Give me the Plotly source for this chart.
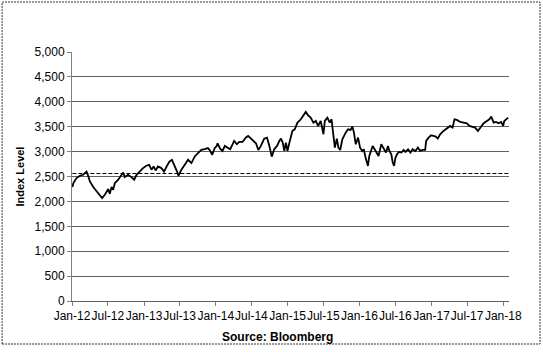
import plotly.graph_objects as go

dates = [
    "2012-01-03","2012-01-08","2012-01-24","2012-02-10","2012-02-27","2012-03-15","2012-03-23","2012-04-01",
    "2012-04-18","2012-05-05","2012-05-22","2012-06-02","2012-06-16","2012-07-03","2012-07-11","2012-07-20",
    "2012-07-28","2012-08-06","2012-08-23","2012-09-08","2012-09-17","2012-09-25","2012-10-12","2012-10-29",
    "2012-11-12","2012-11-24","2012-12-10","2012-12-27","2013-01-13","2013-01-27","2013-02-08","2013-02-19",
    "2013-03-01","2013-03-13","2013-03-30","2013-04-13","2013-04-28","2013-05-11","2013-05-23","2013-06-06",
    "2013-06-18","2013-06-25","2013-07-10","2013-07-27","2013-08-13","2013-08-30","2013-09-16","2013-10-02",
    "2013-10-19","2013-11-05","2013-11-22","2013-11-30","2013-12-14","2013-12-26","2014-01-06",
    "2014-01-10","2014-01-23","2014-02-04","2014-02-16","2014-03-01","2014-03-15","2014-03-27","2014-04-04",
    "2014-04-18","2014-04-30","2014-05-17","2014-06-02","2014-06-14","2014-06-28","2014-07-12","2014-07-24",
    "2014-08-05","2014-08-18","2014-09-04","2014-09-18","2014-09-30","2014-10-12","2014-10-25","2014-11-08",
    "2014-11-20","2014-11-28","2014-12-07","2014-12-15","2014-12-23","2014-12-31","2015-01-08","2015-01-17",
    "2015-01-25","2015-02-06","2015-02-20","2015-03-09","2015-03-22","2015-04-03","2015-04-15","2015-04-28",
    "2015-05-12","2015-05-24","2015-06-05","2015-06-18","2015-07-02","2015-07-09","2015-07-22","2015-08-03",
    "2015-08-12","2015-08-22","2015-08-29","2015-09-08","2015-09-16","2015-09-25","2015-10-06","2015-10-23",
    "2015-11-04","2015-11-17","2015-11-26","2015-12-04","2015-12-13","2015-12-25","2016-01-04","2016-01-15",
    "2016-01-23","2016-02-01",
    "2016-02-08","2016-02-13","2016-02-20","2016-03-01","2016-03-08","2016-03-18","2016-03-30","2016-04-07",
    "2016-04-21","2016-05-03","2016-05-15","2016-05-25","2016-06-01","2016-06-11","2016-06-18","2016-06-25",
    "2016-07-02","2016-07-10","2016-07-19","2016-08-01","2016-08-13","2016-08-21","2016-09-04","2016-09-16",
    "2016-09-27","2016-10-11","2016-10-24","2016-11-05","2016-11-17","2016-11-30","2016-12-05","2016-12-17",
    "2016-12-30","2017-01-11","2017-01-23","2017-02-02","2017-02-14","2017-03-03","2017-03-20","2017-04-06",
    "2017-04-18","2017-04-28","2017-05-10","2017-05-27","2017-06-13","2017-06-30","2017-07-12","2017-07-25",
    "2017-08-11","2017-08-25","2017-09-06","2017-09-23","2017-10-10","2017-10-22","2017-11-01","2017-11-13",
    "2017-11-25","2017-12-08","2017-12-21","2017-12-31","2018-01-06","2018-01-17","2018-01-26",
]

index_level = [
    2288,2368,2468,2515,2535,2600,2515,2400,
    2288,2200,2114,2067,2134,2248,2154,2288,
    2234,2368,2435,2535,2582,2488,2535,2488,
    2435,2535,2600,2669,2716,2736,2636,2702,
    2622,2702,2669,2600,2716,2803,2836,2716,
    2600,2515,2636,2736,2836,2769,2903,2970,
    3037,3050,3070,3037,2937,3070,3117,
    3167,3060,3013,3114,3080,3047,3147,3214,
    3147,3194,3194,3281,3314,3261,3214,3167,
    3033,3114,3261,3281,3114,2900,3047,3114,
    3214,3261,3181,3013,3181,3013,3147,3314,
    3415,3448,3582,3649,3716,3796,3729,3682,
    3582,3615,3515,3615,3348,3615,3682,3582,
    3649,3314,3080,3261,3080,3033,3248,3381,
    3448,3435,3502,3381,3147,3281,3080,3013,
    3047,2880,
    2746,2712,2913,3013,3114,3047,2946,2913,
    3147,3047,2980,3114,3013,2946,2779,2712,
    2880,2946,2993,2980,3033,2993,3047,2980,
    3047,3013,3080,3013,3033,3033,3214,3281,
    3328,3314,3301,3261,3348,3415,3462,3515,
    3482,3649,3636,3595,3582,3569,3515,3502,
    3482,3415,3482,3569,3615,3649,3702,3582,
    3595,3569,3595,3515,3615,3649,3682,
]

reference_level = 2560

tick_dates = ["2012-01-01","2012-07-01","2013-01-01","2013-07-01","2014-01-01","2014-07-01",
              "2015-01-01","2015-07-01","2016-01-01","2016-07-01","2017-01-01","2017-07-01","2018-01-01"]
tick_labels = ["Jan-12","Jul-12","Jan-13","Jul-13","Jan-14","Jul-14","Jan-15","Jul-15",
               "Jan-16","Jul-16","Jan-17","Jul-17","Jan-18"]
y_ticks = list(range(0, 5001, 500))

FONT = "Liberation Sans, Arial, sans-serif"
GRID = "#5c655c"
AXIS = "#808080"

fig = go.Figure()
fig.add_trace(go.Scatter(x=[dates[0], "2018-01-30"], y=[reference_level, reference_level],
                         mode="lines", line=dict(color="black", width=1.1, dash="4px,2px"),
                         hoverinfo="skip", showlegend=False))
fig.add_trace(go.Scatter(x=dates, y=index_level, mode="lines",
                         line=dict(color="black", width=1.8), showlegend=False))

fig.update_layout(
    width=543, height=352,
    margin=dict(l=72, r=34, t=52, b=51),
    paper_bgcolor="white", plot_bgcolor="white",
    font=dict(family=FONT, size=12, color="black"),
    xaxis=dict(type="date", range=["2012-01-01", "2018-01-30"],
               tickvals=tick_dates, ticktext=tick_labels, tickangle=0,
               showgrid=False, showline=True, linecolor=GRID, linewidth=1,
               ticks="outside", ticklen=4, tickcolor=AXIS, zeroline=False,
               tickfont=dict(size=12)),
    yaxis=dict(range=[0, 5000], tickvals=y_ticks, tickformat=",d",
               showgrid=True, gridcolor=GRID, gridwidth=1,
               showline=True, linecolor=AXIS, linewidth=1,
               ticks="outside", ticklen=4, tickcolor=AXIS, zeroline=False,
               tickfont=dict(size=12)),
    shapes=[dict(type="rect", xref="paper", yref="paper",
                 x0=-0.160, x1=1.071, y0=-0.1727, y1=1.2008,
                 line=dict(color="#333333", width=1, dash="2px,1px"))],
    annotations=[
        dict(text="<b>Index Level</b>", xref="paper", yref="paper", x=-0.119, y=0.5,
             textangle=-90, showarrow=False, font=dict(size=11, family=FONT),
             xanchor="center", yanchor="middle"),
        dict(text="<b>Source: Bloomberg</b>", xref="paper", yref="paper", x=0.471, y=-0.1446,
             showarrow=False, font=dict(size=12, family=FONT),
             xanchor="center", yanchor="middle"),
    ],
)

fig.write_html("out.html")
